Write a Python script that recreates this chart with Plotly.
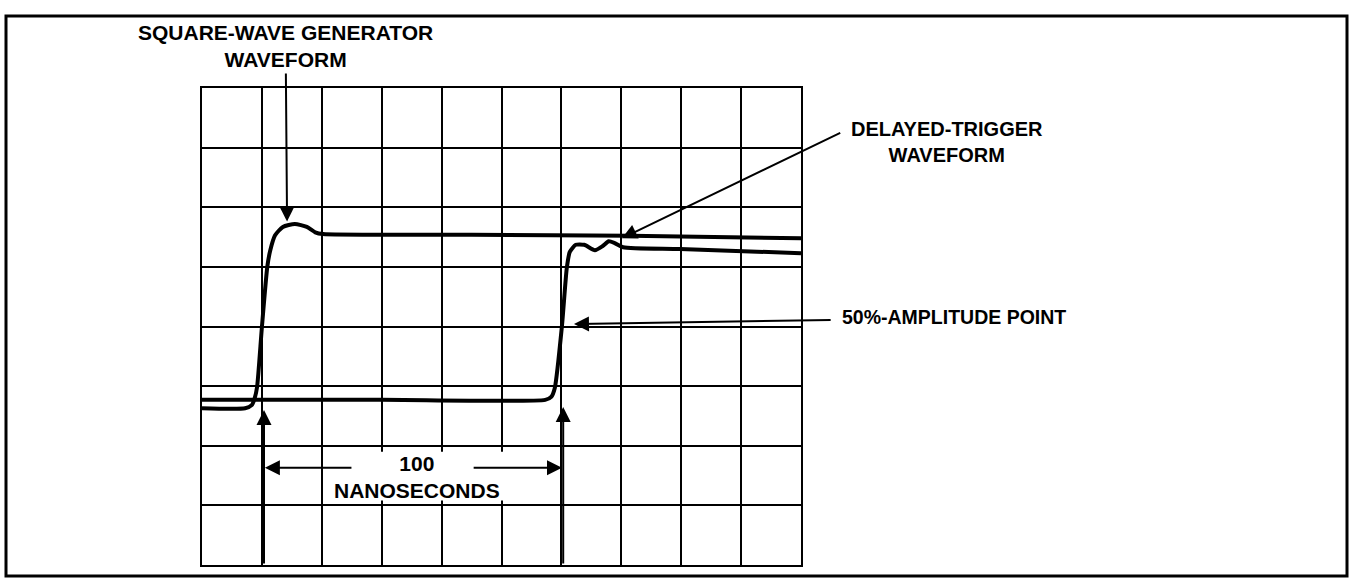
import plotly.graph_objects as go

# ---- data (graticule divisions: x 0..10, y 0..8) ----
square_x = [0.0, 0.72, 0.83, 0.88, 0.92, 1.00, 1.09, 1.14, 1.22, 1.35, 1.55, 1.75, 1.89, 2.02, 4.5, 7.15, 10.0]
square_y = [2.63, 2.63, 2.68, 2.80, 2.99, 3.99, 5.00, 5.28, 5.53, 5.67, 5.72, 5.67, 5.58, 5.55, 5.54, 5.52, 5.48]

trigger_x = [0.0, 3.0, 5.73, 5.83, 5.89, 6.01, 6.09, 6.14, 6.24, 6.38, 6.56, 6.69, 6.79, 6.89, 7.03, 7.98, 10.0]
trigger_y = [2.77, 2.77, 2.77, 2.82, 2.97, 4.02, 4.98, 5.25, 5.37, 5.37, 5.28, 5.35, 5.43, 5.40, 5.33, 5.30, 5.23]

label_square = ["SQUARE-WAVE GENERATOR", "WAVEFORM"]
label_trigger = ["DELAYED-TRIGGER", "WAVEFORM"]
label_amp = "50%-AMPLITUDE POINT"
label_time = ["100", "NANOSECONDS"]

# ---- layout geometry ----
W, H = 1356, 585
L, R, T, B = 202, 801, 88, 565  # plot area in pixels
XR, YR = 10.0, 8.0

FONT = "Liberation Sans, Arial, Helvetica, sans-serif"

fig = go.Figure()
fig.add_trace(go.Scatter(x=square_x, y=square_y, mode="lines",
                         line=dict(color="black", width=4, shape="spline", smoothing=0.6),
                         hoverinfo="skip", showlegend=False))
fig.add_trace(go.Scatter(x=trigger_x, y=trigger_y, mode="lines",
                         line=dict(color="black", width=4, shape="spline", smoothing=0.6),
                         hoverinfo="skip", showlegend=False))

axis_common = dict(showgrid=True, gridcolor="black", gridwidth=2, zeroline=False,
                   showline=True, linecolor="black", linewidth=2, mirror=True,
                   ticks="", showticklabels=False, tick0=0, dtick=1, fixedrange=True)

fig.update_layout(
    width=W, height=H, autosize=False,
    margin=dict(l=L, r=W - R, t=T, b=H - B, pad=0),
    paper_bgcolor="white", plot_bgcolor="white",
    xaxis=dict(range=[0, XR], **axis_common),
    yaxis=dict(range=[0, YR], **axis_common),
    showlegend=False,
)

def px_x(p):
    return (p - L) / (R - L)

def px_y(p):
    return (B - p) / (B - T)

# outer frame
fig.add_shape(type="rect", xref="paper", yref="paper",
              x0=px_x(6), x1=px_x(1347), y0=px_y(576), y1=px_y(16),
              line=dict(color="black", width=3), layer="above")

# white patch behind "100 NANOSECONDS"
fig.add_shape(type="rect", xref="x", yref="y", x0=2.08, x1=5.96, y0=1.08, y1=1.90,
              line=dict(width=0), fillcolor="white", layer="above")

def text(x, y, lines, size):
    # x, y in graticule divisions, placed via paper refs so text outside the grid shows
    s = lines if isinstance(lines, str) else "<br>".join(lines)
    fig.add_annotation(x=x / XR, y=y / YR, xref="paper", yref="paper", text=s, showarrow=False,
                       xanchor="center", yanchor="middle", align="center",
                       font=dict(family=FONT, size=size, color="black", weight="bold"))

def arrow(x, y, ax, ay):
    fig.add_annotation(x=x, y=y, ax=ax, ay=ay, xref="x", yref="y", axref="x", ayref="y",
                       text="", showarrow=True, arrowhead=2, arrowsize=1.5,
                       arrowwidth=2, arrowcolor="black", standoff=0, startstandoff=0)

text(1.39, 8.70, label_square, 21)
arrow(1.42, 5.76, 1.40, 8.27)

text(12.43, 7.09, label_trigger, 20)
arrow(7.01, 5.48, 10.68, 7.26)

text(12.55, 4.16, label_amp, 19.5)
arrow(6.21, 4.04, 10.52, 4.11)

arrow(1.035, 2.60, 1.035, 0.0)
arrow(6.03, 2.65, 6.03, 0.0)
arrow(1.05, 1.63, 2.52, 1.63)
arrow(6.01, 1.63, 4.51, 1.63)
text(3.59, 1.48, label_time, 21)

fig.write_html("out.html", config={"displayModeBar": False},
               post_script="document.body.style.margin='0';document.body.style.overflow='hidden';")
